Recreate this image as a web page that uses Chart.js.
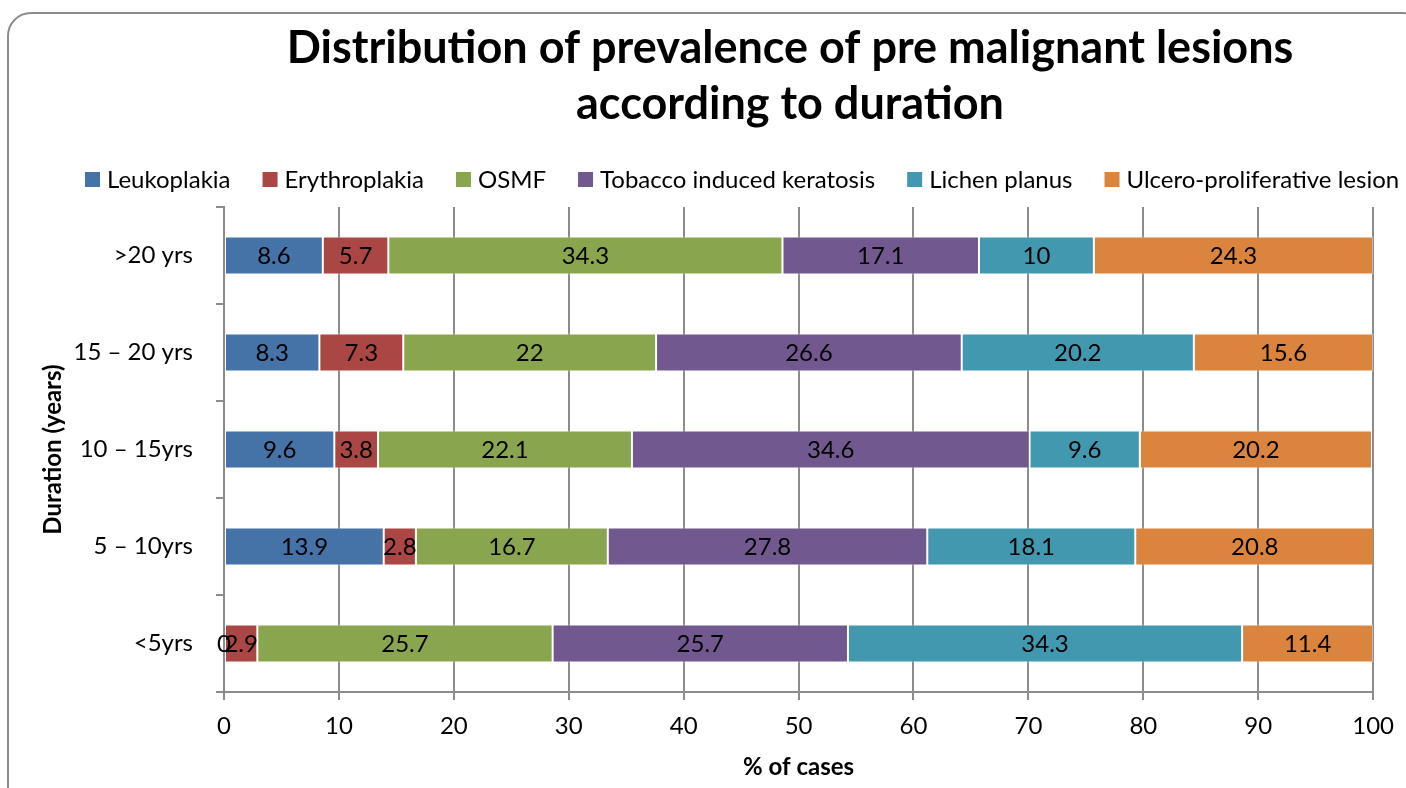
<!DOCTYPE html>
<html>
<head>
<meta charset="utf-8">
<script src="https://cdn.jsdelivr.net/npm/chart.js@4.4.1/dist/chart.umd.min.js"></script>
<style>
    body { margin: 0; background: #fff; overflow: hidden; }
    #moldura { position: absolute; left: 7px; top: 12px; width: 1420px; height: 800px; border: 2px solid #8c8c8c; border-radius: 24px; box-sizing: border-box; }
    #caixa { position: absolute; left: 0; top: 0; width: 1406px; height: 788px; }
</style>
</head>
<body>
<div id="moldura"></div>
<div id="caixa"><canvas id="myChart" width="1406" height="788"></canvas></div>
<script>
const duracoes = ['>20 yrs', '15 – 20 yrs', '10 – 15yrs', '5 – 10yrs', '<5yrs'];

const leukoplakia   = [8.6, 8.3, 9.6, 13.9, 0];
const erythroplakia = [5.7, 7.3, 3.8, 2.8, 2.9];
const osmf          = [34.3, 22, 22.1, 16.7, 25.7];
const tobacco       = [17.1, 26.6, 34.6, 27.8, 25.7];
const lichen        = [10, 20.2, 9.6, 18.1, 34.3];
const ulcero        = [24.3, 15.6, 20.2, 20.8, 11.4];

const nomes = ['Leukoplakia', 'Erythroplakia', 'OSMF', 'Tobacco induced keratosis', 'Lichen planus', 'Ulcero-proliferative lesion'];
const cores = ['#4572A7', '#AA4643', '#89A54E', '#71588F', '#4198AF', '#DB843D'];

const xMin = 0, xMax = 100, xPasso = 10;

const titulo = ['Distribution of prevalence of pre malignant lesions', 'according to duration'];

const fonte = 'Lato, "Open Sans", sans-serif';
const cinza = '#8c8c8c';

// rotulos no meio de cada pedaco da barra
const rotulos = {
    id: 'rotulos',
    afterDatasetsDraw(chart) {
        const ctx = chart.ctx;
        ctx.save();
        ctx.font = '24px ' + fonte;
        ctx.fillStyle = '#000';
        ctx.textAlign = 'center';
        ctx.textBaseline = 'middle';
        chart.data.datasets.forEach((ds, i) => {
            chart.getDatasetMeta(i).data.forEach((barra, j) => {
                const p = barra.getProps(['x', 'y', 'base'], true);
                ctx.fillText(String(ds.data[j]), (p.x + p.base) / 2, p.y + 1);
            });
        });
        ctx.restore();
    }
};

// titulo e legenda desenhados a mao
const cabecalho = {
    id: 'cabecalho',
    afterDraw(chart) {
        const ctx = chart.ctx;
        ctx.save();
        ctx.fillStyle = '#000';
        ctx.textAlign = 'center';
        ctx.textBaseline = 'alphabetic';
        ctx.font = 'bold 45px ' + fonte;
        ctx.fillText(titulo[0], 790, 63);
        ctx.fillText(titulo[1], 790, 119);

        ctx.font = '24px ' + fonte;
        ctx.textAlign = 'left';
        ctx.textBaseline = 'middle';
        let x = 85;
        chart.data.datasets.forEach((ds) => {
            ctx.fillStyle = ds.backgroundColor;
            ctx.fillRect(x, 172, 15, 15);
            ctx.fillStyle = '#000';
            ctx.fillText(ds.label, x + 22, 180);
            x += 22 + ctx.measureText(ds.label).width + 32;
        });
        ctx.restore();
    }
};

const series = [leukoplakia, erythroplakia, osmf, tobacco, lichen, ulcero];

const ctx = document.getElementById('myChart').getContext('2d');
new Chart(ctx, {
    type: 'bar',
    data: {
        labels: duracoes,
        datasets: series.map((valores, i) => ({
            label: nomes[i],
            data: valores,
            backgroundColor: cores[i],
            borderColor: 'rgba(255,255,255,0.5)',
            borderWidth: 1,
            borderSkipped: false,
            categoryPercentage: 1,
            barPercentage: 0.392
        }))
    },
    options: {
        indexAxis: 'y',
        responsive: false,
        animation: false,
        layout: {
            padding: { top: 207, left: 30, right: 32, bottom: 0 }
        },
        plugins: {
            legend: { display: false },
            title: { display: false },
            tooltip: { enabled: false }
        },
        scales: {
            x: {
                stacked: true,
                min: xMin,
                max: xMax,
                ticks: {
                    stepSize: xPasso,
                    color: '#000',
                    padding: 12,
                    font: { family: fonte, size: 24 }
                },
                grid: {
                    color: cinza,
                    lineWidth: 2,
                    tickLength: 8
                },
                border: { color: cinza, width: 2 },
                title: {
                    display: true,
                    text: '% of cases',
                    color: '#000',
                    font: { family: fonte, size: 24, weight: 'bold' },
                    padding: { top: 0, bottom: 6 }
                },
                afterFit(s) { s.height = 96; }
            },
            y: {
                stacked: true,
                ticks: {
                    color: '#000',
                    padding: 23,
                    font: { family: fonte, size: 24 }
                },
                grid: {
                    drawOnChartArea: false,
                    color: cinza,
                    lineWidth: 2,
                    tickLength: 8
                },
                border: { color: cinza, width: 2 },
                title: {
                    display: true,
                    text: 'Duration (years)',
                    color: '#000',
                    font: { family: fonte, size: 24, weight: 'bold' },
                    padding: { top: 9, bottom: 0 }
                },
                afterFit(s) { s.width = 194; }
            }
        }
    },
    plugins: [rotulos, cabecalho]
});
</script>
</body>
</html>
